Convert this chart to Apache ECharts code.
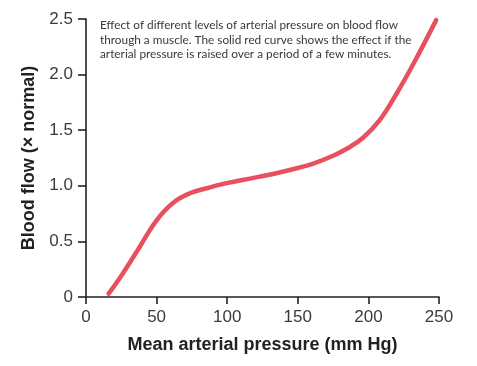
<!DOCTYPE html>
<html><head><meta charset="utf-8">
<script src="https://cdn.jsdelivr.net/npm/echarts@6/dist/echarts.min.js"></script>
<style>html,body{margin:0;padding:0;background:#fff}#c{width:477px;height:366px}</style>
</head><body><div id="c"></div>
<script>
const pressure = [16, 26, 38, 50, 62, 74, 86, 98, 110, 122, 137, 150, 161, 175, 185, 196, 208, 220, 232, 248];
const flow = [0.03, 0.21, 0.45, 0.69, 0.85, 0.935, 0.98, 1.02, 1.05, 1.08, 1.12, 1.16, 1.20, 1.27, 1.335, 1.43, 1.59, 1.83, 2.10, 2.49];
const yTickLabels = ['0', '0.5', '1.0', '1.5', '2.0', '2.5'];
const xTitle = 'Mean arterial pressure (mm Hg)';
const yTitle = 'Blood flow (\u00d7 normal)';
const note = 'Effect of different levels of arterial pressure on blood flow\nthrough a muscle. The solid red curve shows the effect if the\narterial pressure is raised over a period of a few minutes.';

const chart = echarts.init(document.getElementById('c'));
chart.setOption({
  animation: false,
  grid: {left: 86, right: 38, top: 19, bottom: 69},
  title: {text: note, left: 95, top: 13,
    textStyle: {fontFamily: 'Lato', fontSize: 11.8, fontWeight: 'normal', color: '#383838', lineHeight: 14.5}},
  xAxis: {type: 'value', min: 0, max: 250, interval: 50,
    name: xTitle, nameLocation: 'middle', nameGap: 39,
    nameTextStyle: {fontFamily: 'Liberation Sans', fontSize: 18, fontWeight: 'bold', color: '#222'},
    axisLine: {lineStyle: {color: '#222', width: 1.6}},
    axisTick: {length: 7, lineStyle: {color: '#222', width: 1.6}},
    axisLabel: {margin: 12, fontFamily: 'Liberation Sans', fontSize: 17, color: '#3a3a3a'},
    splitLine: {show: false}},
  yAxis: {type: 'value', min: 0, max: 2.5, interval: 0.5,
    name: yTitle, nameLocation: 'middle', nameGap: 48,
    nameTextStyle: {fontFamily: 'Liberation Sans', fontSize: 18, fontWeight: 'bold', color: '#222'},
    axisLine: {show: true, lineStyle: {color: '#222', width: 1.6}},
    axisTick: {show: true, length: 8, lineStyle: {color: '#222', width: 1.6}},
    axisLabel: {margin: 13, fontFamily: 'Liberation Sans', fontSize: 17, color: '#3a3a3a',
      formatter: (v) => yTickLabels[Math.round(v / 0.5)]},
    splitLine: {show: false}},
  series: [{type: 'line', smooth: 0.4, symbol: 'none',
    data: pressure.map((p, i) => [p, flow[i]]),
    lineStyle: {color: '#e8505f', width: 4.5, cap: 'round'}}]
});
</script></body></html>
